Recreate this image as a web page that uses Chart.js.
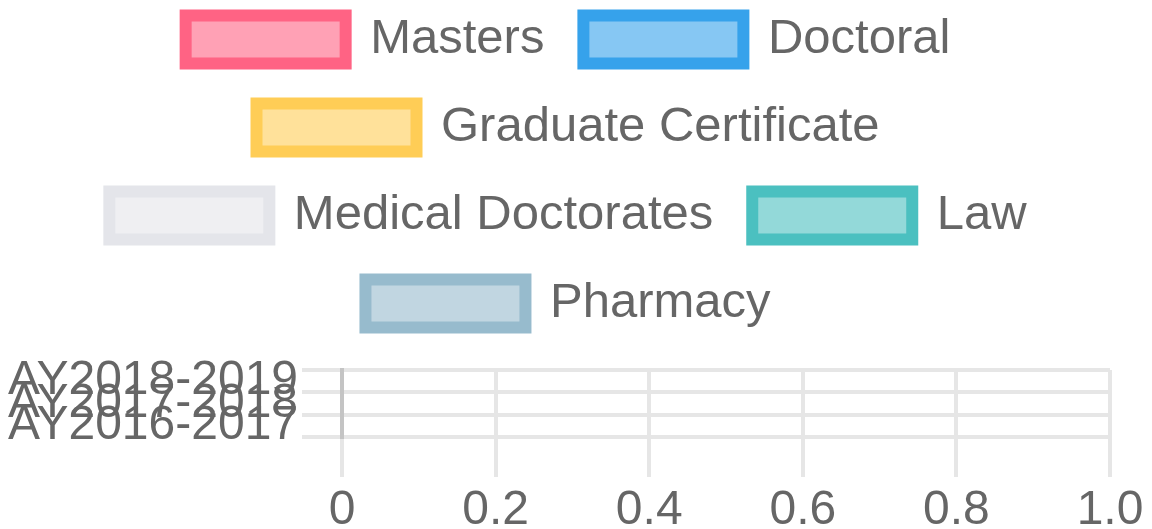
<!DOCTYPE html>
<html>
<head>
<meta charset="utf-8">
<script src="https://cdn.jsdelivr.net/npm/chart.js@4"></script>
<style>
  html, body { margin: 0; padding: 0; background: #fff; overflow: hidden; }
  #wrap { position: absolute; left: 0; top: -24px; width: 1152px; height: 553px; }
</style>
</head>
<body>
<div id="wrap"><canvas id="bar-chart"></canvas></div>
<script>
var years = ['AY2018-2019', 'AY2017-2018', 'AY2016-2017'];
var masters = [null, null, null];
var doctoral = [null, null, null];
var gradCert = [null, null, null];
var medDoc = [null, null, null];
var law = [null, null, null];
var pharmacy = [null, null, null];
var xTicks = [0, 0.2, 0.4, 0.6, 0.8, 1.0];

Chart.defaults.font.family = "'Liberation Sans', Arial, sans-serif";
Chart.defaults.font.size = 48;
Chart.defaults.color = '#666';

function series(label, values, rgb) {
    return {
        label: label,
        data: values,
        backgroundColor: 'rgba(' + rgb + ', 0.6)',
        borderColor: 'rgb(' + rgb + ')',
        borderWidth: 12
    };
}

var data = {
    labels: years,
    datasets: [
        series('Masters', masters, '255, 99, 132'),
        series('Doctoral', doctoral, '54, 162, 235'),
        series('Graduate Certificate', gradCert, '255, 205, 86'),
        series('Medical Doctorates', medDoc, '228, 229, 234'),
        series('Law', law, '75, 192, 192'),
        series('Pharmacy', pharmacy, '151, 187, 205')
    ]
};

// v4 caps a top legend at half the canvas; this one takes more, plus a gap below
var legendGap = {
    id: 'legendGap',
    beforeLayout: function(chart) {
        var lg = chart.legend;
        if (lg && !lg._gapPatched) {
            var fit = lg.fit;
            lg.fit = function() {
                fit.apply(this, arguments);
                var rows = 0;
                (this.legendHitBoxes || []).forEach(function(b) { rows = Math.max(rows, b.row + 1); });
                this.height = rows * 88 + 42;
            };
            lg._gapPatched = true;
        }
    }
};

var options = {
    indexAxis: 'y',
    responsive: true,
    maintainAspectRatio: false,
    animation: false,
    layout: { padding: { left: 4, right: 20 } },
    plugins: {
        legend: {
            labels: { boxWidth: 160, boxHeight: 48, padding: 39, font: { size: 49 } }
        },
        tooltip: { enabled: false }
    },
    scales: {
        x: {
            min: xTicks[0],
            max: xTicks[xTicks.length - 1],
            afterBuildTicks: function(scale) {
                scale.ticks = xTicks.map(function(v) { return { value: v }; });
            },
            ticks: {
                padding: 5,
                callback: function(v) { return v === 0 ? '0' : v.toFixed(1); }
            },
            grid: {
                lineWidth: 4,
                tickLength: 40,
                color: function(c) { return c.tick && c.tick.value === 0 ? '#c4c4c4' : '#e6e6e6'; },
                tickColor: '#e6e6e6'
            },
            border: { color: '#e6e6e6', width: 4 },
            afterFit: function(scale) {
                scale.height = 92;
                scale.paddingRight = 42;
            }
        },
        y: {
            ticks: { padding: 4, autoSkip: false },
            grid: {
                lineWidth: 4,
                tickLength: 40,
                color: '#e6e6e6'
            },
            border: { color: '#c4c4c4', width: 4 }
        }
    }
};

var ctx = document.getElementById('bar-chart').getContext('2d');
var chart = new Chart(ctx, {
    type: 'bar',
    data: data,
    options: options,
    plugins: [legendGap]
});
</script>
</body>
</html>
